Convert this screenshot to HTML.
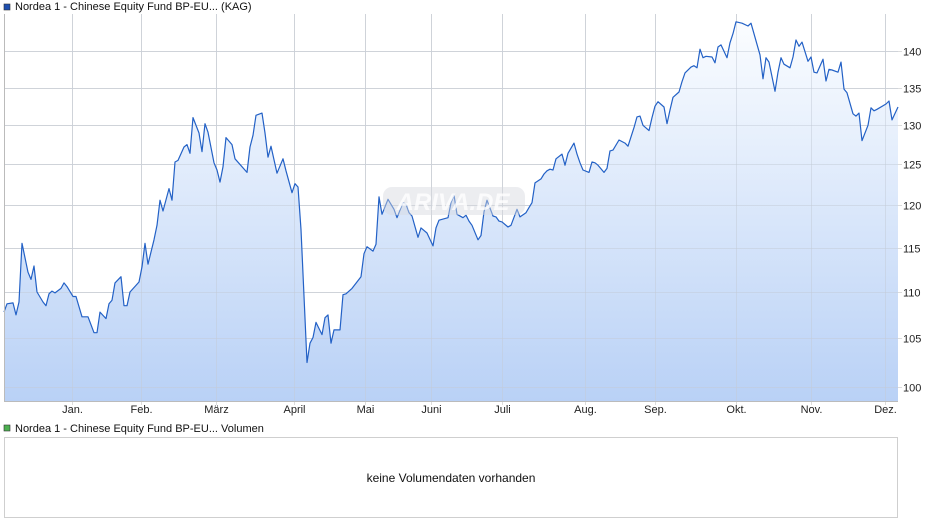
<!DOCTYPE html>
<html><head><meta charset="utf-8">
<style>
body{margin:0;background:#fff;font-family:"Liberation Sans",Arial,sans-serif;}
svg text{font-family:"Liberation Sans",Arial,sans-serif;}
</style></head>
<body>
<svg id="chart" width="940" height="526" viewBox="0 0 940 526">
<defs>
<linearGradient id="fillg" x1="0" y1="0" x2="0" y2="1">
<stop offset="0" stop-color="#fbfdff"/>
<stop offset="1" stop-color="#b9d1f6"/>
</linearGradient>
</defs>
<rect x="4" y="14" width="6" height="6" fill="#1f4fb0" stroke="#333" stroke-width="0.6" transform="translate(0,-10)"/>
<text x="15" y="10" font-size="11" fill="#111">Nordea 1 - Chinese Equity Fund BP-EU... (KAG)</text>
<g id="grid"></g>
<g id="area"></g>
<g id="wm">
<rect x="383" y="187" width="142" height="28" rx="9" fill="#d4d8de" opacity="0.45"/>
<text x="453" y="210" font-size="24" font-style="italic" font-weight="bold" fill="#ffffff" opacity="0.8" text-anchor="middle">ARIVA.DE</text>
</g>
<g id="axes"></g>
<rect x="4" y="425" width="6" height="6" fill="#4caf50" stroke="#333" stroke-width="0.6"/>
<text x="15" y="432" font-size="11" fill="#111">Nordea 1 - Chinese Equity Fund BP-EU... Volumen</text>
<rect x="4.5" y="437.5" width="893" height="80" fill="#fff" stroke="#cfcfcf"/>
<text x="451" y="482" font-size="12" fill="#111" text-anchor="middle">keine Volumendaten vorhanden</text>
</svg>
<script>
const dayIndex=[0,1,3,4,5,6,8,9,10,11,13,14,15,16,17,19,20,21,23,24,26,28,30,31,32,34,35,36,37,39,40,41,42,45,46,47,48,50,51,52,53,55,56,57,58,60,61,62,63,65,66,67,68,70,71,72,73,74,76,77,81,82,83,84,86,87,88,89,91,93,94,96,97,98,99,101,102,103,104,106,107,108,109,110,112,113,114,116,119,120,121,123,124,125,126,128,130,131,133,134,135,136,138,139,141,143,144,145,148,149,150,151,153,154,155,156,158,159,160,161,163,164,165,166,168,169,171,172,174,175,176,177,179,180,181,182,183,184,186,187,188,190,191,192,193,195,196,197,198,200,201,202,203,205,207,208,210,211,212,213,215,216,217,218,220,221,222,223,225,226,227,229,230,231,232,233,234,236,237,238,239,241,242,243,244,246,248,249,252,253,254,255,257,258,259,260,262,263,264,265,266,268,269,270,271,273,274,275,276,278,279,280,281,283,284,285,286,288,289,290,291,294,295,296,298];
const prices=[107.8,108.7,108.8,107.5,108.9,115.5,112.2,111.4,112.9,110.0,108.9,108.5,109.8,110.1,109.9,110.4,111.0,110.6,109.5,109.5,107.3,107.3,105.6,105.6,107.8,107.1,108.7,109.1,111.0,111.7,108.5,108.5,110.0,111.1,112.8,115.5,113.1,115.9,117.6,120.6,119.3,122.0,120.6,125.3,125.5,127.2,127.5,126.4,131.0,129.0,126.6,130.2,129.1,125.2,124.3,122.8,124.7,128.4,127.5,125.7,124.0,127.2,128.7,131.3,131.6,129.0,125.9,127.3,123.9,125.7,124.2,121.5,122.6,122.2,117.1,102.5,104.5,105.1,106.7,105.4,107.2,107.5,104.5,105.9,105.9,109.7,109.8,110.4,111.7,114.3,115.1,114.6,115.4,121.0,118.9,120.7,119.5,118.5,120.3,120.1,119.1,118.7,116.2,117.3,116.7,115.2,117.3,118.2,118.5,120.3,121.2,118.9,118.5,118.8,118.1,117.6,115.9,116.4,119.2,120.6,118.7,118.6,118.1,118.0,117.4,117.6,119.5,118.6,119.1,119.7,120.3,122.7,123.2,123.8,124.2,124.4,124.3,125.7,126.3,124.9,126.4,127.7,126.3,125.2,124.3,124.0,125.3,125.2,124.9,124.0,124.5,126.7,126.8,128.1,127.7,127.3,129.7,131.1,131.2,130.0,129.3,131.0,132.5,133.1,132.4,130.2,132.0,133.7,134.4,135.8,137.0,137.8,138.0,137.7,140.3,139.1,139.3,139.2,138.4,140.6,140.9,139.1,141.2,142.5,144.2,144.0,143.6,144.0,139.5,136.2,139.1,138.5,134.5,137.1,139.1,138.2,137.7,139.2,141.6,140.7,141.3,138.6,139.2,137.1,137.0,138.9,135.9,137.5,137.4,137.1,138.5,134.8,134.3,131.5,131.2,131.6,128.0,130.0,132.3,131.9,132.1,132.8,133.2,130.7,132.4];
const yTicks=[100,105,110,115,120,125,130,135,140];
const monthLabels=["Jan.","Feb.","März","April","Mai","Juni","Juli","Aug.","Sep.","Okt.","Nov.","Dez."];
const monthIndex=[22.7,45.7,70.7,96.7,120.3,142.3,166,193.7,217,244,269,293.7];

const NS="http://www.w3.org/2000/svg";
const L=4,R=898,T=14,B=401;
const xDomain=[0,298];
const x=i=>L+(i-xDomain[0])/(xDomain[1]-xDomain[0])*(R-L);
const y=v=>51.3+998*(Math.log(140)-Math.log(v));
function mk(tag,attrs,parent){const e=document.createElementNS(NS,tag);for(const k in attrs)e.setAttribute(k,attrs[k]);parent.appendChild(e);return e;}
const grid=document.getElementById('grid'),area=document.getElementById('area'),axes=document.getElementById('axes');
mk('rect',{x:L,y:T,width:R-L,height:B-T,fill:'#fff'},grid);
yTicks.forEach(v=>{
  const yy=Math.round(y(v))+0.5;
  const ln=mk('line',{x1:L,x2:R+4,y1:yy,y2:yy,stroke:'#dcdcdc','stroke-width':1},grid);
  
  
  const t=mk('text',{x:903,y:yy+4,'font-size':11,fill:'#222'},axes);
  t.textContent=v;
  
  
});
monthIndex.forEach((m,k)=>{
  const xx=Math.round(x(m))+0.5;
  const ln=mk('line',{x1:xx,x2:xx,y1:T,y2:B+4,stroke:'#dcdcdc','stroke-width':1},grid);
  
  
  const t=mk('text',{x:xx,y:413,'font-size':11,fill:'#222','text-anchor':'middle'},axes);
  t.textContent=monthLabels[k];
  
  
});
let d='';
dayIndex.forEach((i,k)=>{d+=(k?'L':'M')+x(i).toFixed(1)+','+y(prices[k]).toFixed(1);});
const fillPath=mk('path',{d:d+'L'+x(dayIndex[dayIndex.length-1]).toFixed(1)+','+B+'L'+x(dayIndex[0]).toFixed(1)+','+B+'Z',fill:'url(#fillg)'},area);


yTicks.forEach(v=>{const yy=Math.round(y(v))+0.5;mk('line',{x1:L,x2:R,y1:yy,y2:yy,stroke:'#c4ccd8','stroke-width':1,opacity:0.5},area);});
monthIndex.forEach(m=>{const xx=Math.round(x(m))+0.5;mk('line',{x1:xx,x2:xx,y1:T,y2:B,stroke:'#c4ccd8','stroke-width':1,opacity:0.5},area);});
const line=mk('path',{d:d,fill:'none',stroke:'#2361c6','stroke-width':1.2,'stroke-linejoin':'round'},area);


mk('line',{x1:L+0.5,x2:L+0.5,y1:T,y2:B,stroke:'#bbb'},axes);
mk('line',{x1:L,x2:R,y1:B+0.5,y2:B+0.5,stroke:'#bbb'},axes);
</script>
</body></html>
